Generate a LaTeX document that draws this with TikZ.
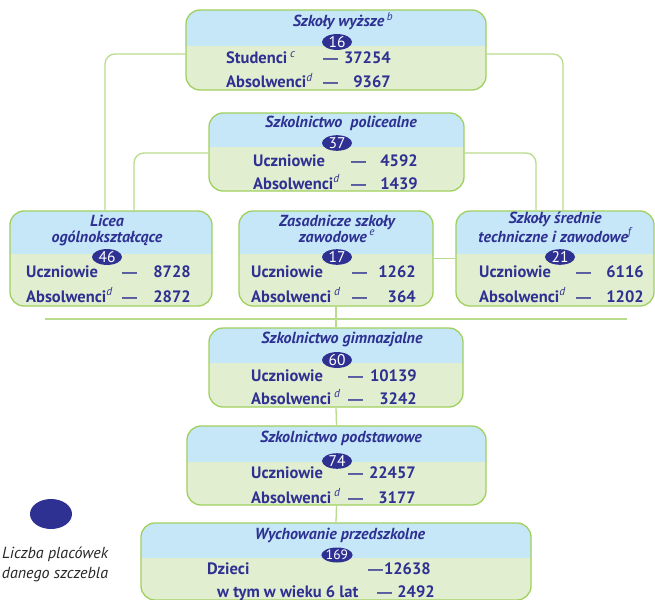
\documentclass[tikz,border=0pt]{standalone}
\usepackage{fontspec}
\setmainfont{PT Sans}
\newfontfamily\kreska{Liberation Sans}
\usetikzlibrary{shapes.geometric}
\definecolor{navy}{HTML}{2E3192}
\definecolor{headblue}{HTML}{C6E7F8}
\definecolor{rowgreen}{HTML}{E2EED0}
\definecolor{rimgreen}{HTML}{9FD05E}
\definecolor{linkgreen}{HTML}{B8DB8C}
\newcommand{\przyp}[1]{\textsuperscript{\normalfont\itshape #1}}
\begin{document}
\begin{tikzpicture}[x=1pt, y=-1pt,
  lvl/.style={draw=rimgreen, line width=1.3pt, rounded corners=14pt, fill=rowgreen, inner sep=0pt,
    path picture={\fill[headblue, sharp corners] (path picture bounding box.north west) rectangle ([yshift=-#1pt]path picture bounding box.north east);}},
  ttl/.style={font=\fontsize{16}{16}\selectfont\bfseries\itshape, text=navy, align=center, anchor=base, inner sep=0pt},
  lbl/.style={font=\fontsize{16.5}{17}\selectfont\bfseries, text=navy, anchor=base west, inner sep=0pt},
  num/.style={font=\fontsize{16.5}{17}\selectfont\bfseries, text=navy, anchor=base east, inner sep=0pt},
  dsh/.style={font=\fontsize{15}{17}\selectfont\kreska\bfseries, text=navy, anchor=base west, inner sep=0pt},
  nr/.style={ellipse, fill=navy, text=white, inner sep=0pt, minimum width=30pt, minimum height=15pt, font=\fontsize{15.5}{15}\selectfont},
  link/.style={draw=linkgreen, line width=1.3pt, rounded corners=10pt}]
\useasboundingbox (0,0) rectangle (655,599);
\clip (0,0) rectangle (655,599);
\node[lvl=36, minimum width=300pt, minimum height=80pt] (sz0) at (336,50){};
\node[lvl=34, minimum width=255pt, minimum height=78pt] (sz1) at (336.5,152){};
\node[lvl=43, minimum width=202pt, minimum height=95pt] (sz2) at (111,258.5){};
\node[lvl=43, minimum width=194pt, minimum height=95pt] (sz3) at (336,258.5){};
\node[lvl=43, minimum width=198pt, minimum height=95pt] (sz4) at (555,258.5){};
\node[lvl=35, minimum width=254pt, minimum height=79pt] (sz5) at (336,367.5){};
\node[lvl=36, minimum width=299pt, minimum height=79pt] (sz6) at (336.5,465.5){};
\node[lvl=35, minimum width=390pt, minimum height=77pt] (sz7) at (336,561.5){};
\draw[link] ([yshift=-4pt]sz0.west) -| ([xshift=-6pt]sz2.north);
\draw[link] ([yshift=-4pt]sz0.east) -| ([xshift=8pt]sz4.north);
\draw[link] ([yshift=-1pt]sz1.west) -| ([xshift=23pt]sz2.north);
\draw[link] ([yshift=-1pt]sz1.east) -| ([xshift=-19pt]sz4.north);
\draw[link] (sz3.east) -- (sz4.west);
\coordinate (osL) at (45,319);
\coordinate (osR) at (627,319);
\draw[link] (osL) -- (osR);
\draw[link] (sz3.south) -- (sz5.north);
\draw[link] (sz5.south) -- (sz6.north);
\draw[link] (sz6.south) -- (sz7.north);
\node[ttl] (t0) at (343,27){Szkoły wyższe\,\przyp{b}};
\node[nr] (n0) at (337,42){16};
\node[lbl] (u0) at (226,64){Studenci\,\przyp{c}};
\node[dsh] (ud0) at (323,64){—};
\node[num] (uv0) at (391,64){37254};
\node[lbl] (w0) at (226,88){Absolwenci\przyp{d}};
\node[dsh] (wd0) at (323,88){—};
\node[num] (wv0) at (391,88){9367};
\node[ttl] (t1) at (341,127){Szkolnictwo\ \ policealne};
\node[nr] (n1) at (337,143){37};
\node[lbl] (u1) at (253,166){Uczniowie};
\node[dsh] (ud1) at (351,166){—};
\node[num] (uv1) at (418,166){4592};
\node[lbl] (w1) at (253,189){Absolwenci\przyp{d}};
\node[dsh] (wd1) at (351,189){—};
\node[num] (wv1) at (418,189){1439};
\node[ttl] (t2) at (107,242){Licea\\ogólnokształcące};
\node[nr] (n2) at (107,257){46};
\node[lbl] (u2) at (26,277){Uczniowie};
\node[dsh] (ud2) at (122,277){—};
\node[num] (uv2) at (191,277){8728};
\node[lbl] (w2) at (26,302){Absolwenci\przyp{d}};
\node[dsh] (wd2) at (122,302){—};
\node[num] (wv2) at (191,302){2872};
\node[ttl] (t3) at (337,242){Zasadnicze szkoły\\zawodowe\,\przyp{e}};
\node[nr] (n3) at (337,257){17};
\node[lbl] (u3) at (251,277){Uczniowie};
\node[dsh] (ud3) at (352,277){—};
\node[num] (uv3) at (416,277){1262};
\node[lbl] (w3) at (251,302){Absolwenci\,\przyp{d}};
\node[dsh] (wd3) at (352,302){—};
\node[num] (wv3) at (416,302){364};
\node[ttl] (t4) at (555,242){Szkoły średnie\\techniczne i zawodowe\przyp{f}};
\node[nr] (n4) at (560,257){21};
\node[lbl] (u4) at (479,277){Uczniowie};
\node[dsh] (ud4) at (576,277){—};
\node[num] (uv4) at (644,277){6116};
\node[lbl] (w4) at (479,302){Absolwenci\przyp{d}};
\node[dsh] (wd4) at (576,302){—};
\node[num] (wv4) at (644,302){1202};
\node[ttl] (t5) at (342,343){Szkolnictwo gimnazjalne};
\node[nr] (n5) at (337,360){60};
\node[lbl] (u5) at (251,381){Uczniowie};
\node[dsh] (ud5) at (348,381){—};
\node[num] (uv5) at (417,381){10139};
\node[lbl] (w5) at (251,404){Absolwenci\,\przyp{d}};
\node[dsh] (wd5) at (348,404){—};
\node[num] (wv5) at (417,404){3242};
\node[ttl] (t6) at (341,442){Szkolnictwo podstawowe};
\node[nr] (n6) at (337,461){74};
\node[lbl] (u6) at (251,478){Uczniowie};
\node[dsh] (ud6) at (348,478){—};
\node[num] (uv6) at (416,478){22457};
\node[lbl] (w6) at (251,503){Absolwenci\,\przyp{d}};
\node[dsh] (wd6) at (348,503){—};
\node[num] (wv6) at (416,503){3177};
\node[ttl] (t7) at (340,539){Wychowanie przedszkolne};
\node[nr, font=\fontsize{13.5}{13}\selectfont] (n7) at (337,555){169};
\node[lbl] (u7) at (207,574){Dzieci};
\node[dsh] (ud7) at (368,574){—};
\node[num] (uv7) at (431,574){12638};
\node[lbl] (w7) at (217,597){w tym w wieku 6 lat};
\node[dsh] (wd7) at (377,597){—};
\node[num] (wv7) at (435,597){2492};
\node[ellipse, fill=navy, minimum width=42pt, minimum height=30pt] (klucz) at (51,514){};
\node[font=\fontsize{16}{20}\selectfont\itshape, align=center, anchor=base, text=black!85] (kluczopis) at (55,578){Liczba placówek\\danego szczebla};
\end{tikzpicture}
\end{document}
